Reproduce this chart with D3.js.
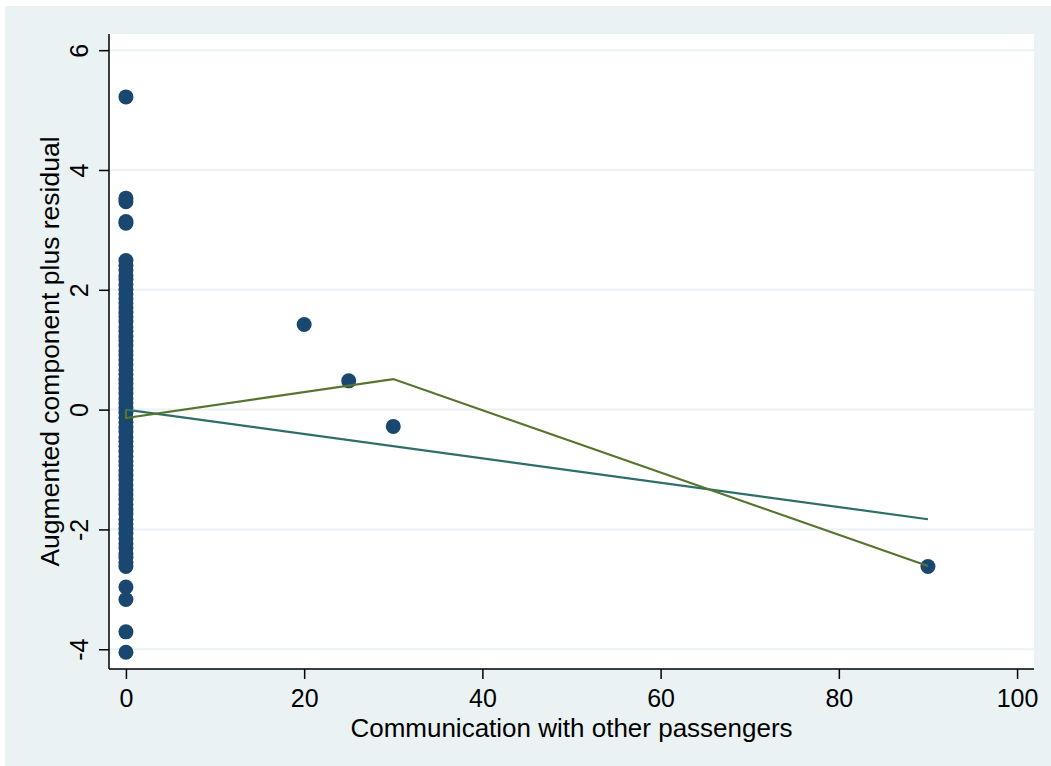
<!DOCTYPE html>
<html>
<head>
<meta charset="utf-8">
<script src="https://cdn.jsdelivr.net/npm/d3@7"></script>
<style>
  html, body { margin: 0; padding: 0; background: #ffffff; }
  svg { display: block; }
  text { font-family: "Liberation Sans", Arial, Helvetica, sans-serif; fill: #000; }
</style>
</head>
<body>
<svg id="chart" width="1051" height="766"></svg>
<script>
// Component-plus-residual data: hours of communication (x) vs augmented residual (y)
const zeroGroupY = [
  5.22, 3.53, 3.47, 3.14, 3.11,
  2.49, 2.41, 2.33, 2.24, 2.17, 2.09, 2.01, 1.93, 1.85, 1.78, 1.70, 1.62, 1.55,
  1.47, 1.38, 1.31, 1.22, 1.15, 1.07, 0.98, 0.91, 0.83, 0.75, 0.66, 0.59, 0.50,
  0.43, 0.35, 0.27, 0.18, 0.11, 0.03, -0.05, -0.13, -0.21, -0.30, -0.37, -0.46,
  -0.53, -0.61, -0.70, -0.78, -0.86, -0.93, -1.02, -1.10, -1.17, -1.26, -1.34,
  -1.42, -1.50, -1.58, -1.67, -1.74, -1.83, -1.91, -1.99, -2.07, -2.15, -2.24,
  -2.31, -2.40, -2.47, -2.55, -2.62,
  -2.96, -3.17, -3.71, -4.05
];
const otherX = [20, 25, 30, 90];
const otherY = [1.42, 0.48, -0.28, -2.62];

// Linear fit (component line) endpoints
const fitX = [0, 90];
const fitY = [0, -1.83];

// Lowess smooth
const lowessX = [0, 0, 30, 90];
const lowessY = [0.0, -0.14, 0.51, -2.61];

const xTicks = [0, 20, 40, 60, 80, 100];
const yTicks = [-4, -2, 0, 2, 4, 6];

const xTitle = "Communication with other passengers";
const yTitle = "Augmented component plus residual";

const svg = d3.select("#chart");
const W = 1051, H = 766;
const FONT = "'Liberation Sans', Arial, Helvetica, sans-serif";

// Outer graph region
svg.append("rect").attr("x", 0).attr("y", 0).attr("width", W).attr("height", H).attr("fill", "#ffffff");
svg.append("rect").attr("x", 5).attr("y", 6).attr("width", W - 5).attr("height", H - 6).attr("fill", "#eaf2f3");

const plot = { left: 109, right: 1034, top: 34, bottom: 669 };

const x = d3.scaleLinear().domain([-1.9, 101.9]).range([plot.left, plot.right]);
const y = d3.scaleLinear().domain([-4.33, 6.27]).range([plot.bottom, plot.top]);

// Plot region
svg.append("rect")
  .attr("x", plot.left).attr("y", plot.top)
  .attr("width", plot.right - plot.left).attr("height", plot.bottom - plot.top)
  .attr("fill", "#ffffff");

// Horizontal gridlines
svg.append("g")
  .selectAll("line")
  .data(yTicks)
  .join("line")
  .attr("x1", plot.left).attr("x2", plot.right)
  .attr("y1", d => y(d)).attr("y2", d => y(d))
  .attr("stroke", "#eaf2f3")
  .attr("stroke-width", 2);

// Axes
const yAxis = svg.append("g")
  .attr("transform", `translate(${plot.left},0)`)
  .call(d3.axisLeft(y).tickValues(yTicks).tickSize(10).tickFormat(d => String(d)));
yAxis.select(".domain").attr("d", `M0,${plot.top}V${plot.bottom}`).attr("stroke", "#000").attr("stroke-width", 1.5);
yAxis.selectAll(".tick line").attr("stroke", "#000").attr("stroke-width", 1.5);
yAxis.selectAll(".tick text")
  .attr("font-size", 25)
  .attr("x", 0)
  .attr("y", -21)
  .attr("dy", 0)
  .attr("text-anchor", "middle")
  .attr("transform", "rotate(-90)")
  .style("font-family", FONT);

const xAxis = svg.append("g")
  .attr("transform", `translate(0,${plot.bottom})`)
  .call(d3.axisBottom(x).tickValues(xTicks).tickSize(10).tickFormat(d => String(d)));
xAxis.select(".domain").attr("d", `M${plot.left},0H${plot.right}`).attr("stroke", "#000").attr("stroke-width", 1.5);
xAxis.selectAll(".tick line").attr("stroke", "#000").attr("stroke-width", 1.5);
xAxis.selectAll(".tick text")
  .attr("font-size", 25)
  .attr("y", 38)
  .attr("dy", 0)
  .style("font-family", FONT);

// Axis titles
svg.append("text")
  .attr("x", (plot.left + plot.right) / 2)
  .attr("y", 737)
  .attr("text-anchor", "middle")
  .attr("font-size", 26)
  .style("font-family", FONT)
  .text(xTitle);

svg.append("text")
  .attr("transform", `translate(59,${(plot.top + plot.bottom) / 2}) rotate(-90)`)
  .attr("text-anchor", "middle")
  .attr("font-size", 26.5)
  .style("font-family", FONT)
  .text(yTitle);

// Scatter points
const points = zeroGroupY.map(v => ({ x: 0, y: v }))
  .concat(otherX.map((v, i) => ({ x: v, y: otherY[i] })));

svg.append("g")
  .selectAll("circle")
  .data(points)
  .join("circle")
  .attr("cx", d => x(d.x))
  .attr("cy", d => y(d.y))
  .attr("r", 7.5)
  .attr("fill", "#1a476f");

// Linear fit line
const line = d3.line().x(d => x(d[0])).y(d => y(d[1]));
svg.append("path")
  .attr("d", line(fitX.map((v, i) => [v, fitY[i]])))
  .attr("fill", "none")
  .attr("stroke", "#2e6e68")
  .attr("stroke-width", 2.2);

// Lowess line
svg.append("path")
  .attr("d", line(lowessX.map((v, i) => [v, lowessY[i]])))
  .attr("fill", "none")
  .attr("stroke", "#55752f")
  .attr("stroke-width", 2.2);
</script>
</body>
</html>
